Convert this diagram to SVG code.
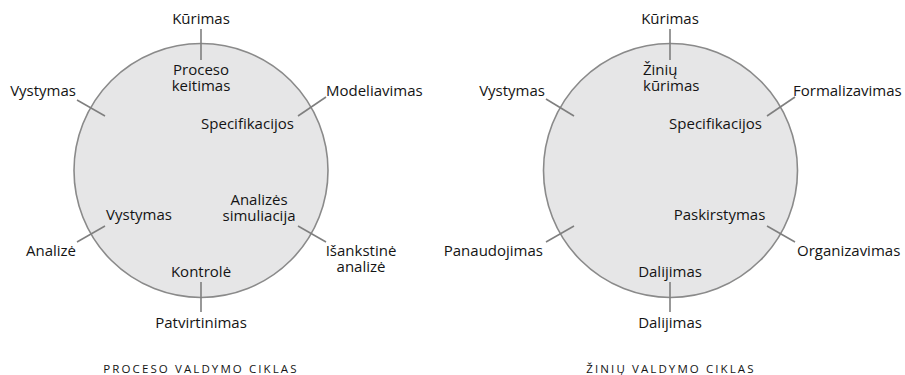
<svg xmlns="http://www.w3.org/2000/svg" width="905" height="375" viewBox="0 0 905 375">
  <style>
    .bg { fill: #ffffff; }
    .cycle { fill: #e6e6e7; stroke: #8a8a8a; stroke-width: 1.6; }
    .tick { stroke: #7f7f7f; stroke-width: 1.6; fill: none; }
    text { font-family: "Open Sans", "Noto Sans", "DejaVu Sans", sans-serif; font-size: 15px; fill: #141414; }
    .m { text-anchor: middle; }
    .e { text-anchor: end; }
    .s { text-anchor: start; }
    .title { font-size: 11.5px; letter-spacing: 2.1px; text-anchor: middle; }
  </style>
  <rect class="bg" x="0" y="0" width="905" height="375"/>

  <!-- Process management cycle -->
  <g id="process-cycle">
    <circle class="cycle" cx="201" cy="170.5" r="127"/>
  </g>
  <!-- Knowledge management cycle -->
  <g id="knowledge-cycle">
    <circle class="cycle" cx="670.5" cy="170.5" r="127"/>
  </g>

  <g id="connectors">
    <!-- left cycle -->
    <line class="tick" x1="201" y1="29" x2="201" y2="60"/>
    <line class="tick" x1="77" y1="100" x2="105" y2="116"/>
    <line class="tick" x1="326" y1="97" x2="298" y2="116"/>
    <line class="tick" x1="77" y1="242" x2="105" y2="226"/>
    <line class="tick" x1="298" y1="226" x2="326" y2="242"/>
    <line class="tick" x1="201" y1="282" x2="201" y2="312"/>
    <!-- right cycle -->
    <line class="tick" x1="670" y1="29" x2="670" y2="60"/>
    <line class="tick" x1="546" y1="99" x2="574" y2="116"/>
    <line class="tick" x1="795" y1="97" x2="767" y2="116"/>
    <line class="tick" x1="546" y1="242" x2="574" y2="226"/>
    <line class="tick" x1="767" y1="226" x2="795" y2="242"/>
    <line class="tick" x1="670" y1="282" x2="670" y2="312"/>
  </g>

  <g id="process-labels">
    <text class="m" x="201" y="24">Kūrimas</text>
    <text class="m" x="201" y="75">Proceso</text>
    <text class="m" x="201" y="91">keitimas</text>
    <text class="e" x="76" y="96">Vystymas</text>
    <text class="s" x="326" y="96">Modeliavimas</text>
    <text class="m" x="247.5" y="129">Specifikacijos</text>
    <text class="m" x="259" y="205">Analizės</text>
    <text class="m" x="259" y="221">simuliacija</text>
    <text class="m" x="139" y="220">Vystymas</text>
    <text class="e" x="76" y="256">Analizė</text>
    <text class="m" x="361" y="256">Išankstinė</text>
    <text class="m" x="361" y="272">analizė</text>
    <text class="m" x="201" y="277">Kontrolė</text>
    <text class="m" x="201" y="328">Patvirtinimas</text>
    <text class="title" x="201" y="373">PROCESO VALDYMO CIKLAS</text>
  </g>

  <g id="knowledge-labels">
    <text class="m" x="670" y="24">Kūrimas</text>
    <text class="s" x="643" y="75">Žinių</text>
    <text class="s" x="643" y="91">kūrimas</text>
    <text class="e" x="545" y="96">Vystymas</text>
    <text class="s" x="793" y="96">Formalizavimas</text>
    <text class="m" x="715.5" y="129">Specifikacijos</text>
    <text class="m" x="719.5" y="220">Paskirstymas</text>
    <text class="e" x="543" y="256">Panaudojimas</text>
    <text class="s" x="797" y="256">Organizavimas</text>
    <text class="m" x="670" y="277">Dalijimas</text>
    <text class="m" x="670" y="328">Dalijimas</text>
    <text class="title" x="671" y="373">ŽINIŲ VALDYMO CIKLAS</text>
  </g>
</svg>
